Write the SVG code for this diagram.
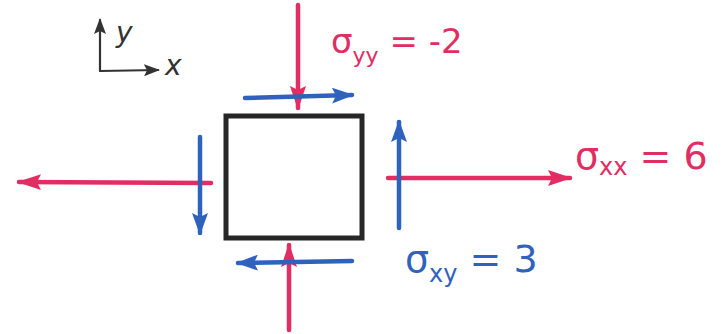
<svg xmlns="http://www.w3.org/2000/svg" width="722" height="334" viewBox="0 0 722 334">
<style>
.red{stroke:#e22d63;stroke-width:4.5;stroke-linecap:round;fill:none}
.blue{stroke:#2f62bd;stroke-width:4.5;stroke-linecap:round;fill:none}
.ax{stroke:#333;stroke-width:2.2;stroke-linecap:round;fill:none}
.lbl{font-family:"DejaVu Sans","Liberation Sans",sans-serif}
.rt{fill:#e22d63}
.bt{fill:#2f62bd}
</style>
<defs>
<marker id="hr" viewBox="0 0 24 18" refX="22" refY="9" markerWidth="24" markerHeight="18" markerUnits="userSpaceOnUse" orient="auto"><path d="M0,1 L24,9 L0,17 L4,9 Z" fill="#e22d63"/></marker>
<marker id="hb" viewBox="0 0 22 16" refX="20" refY="8" markerWidth="22" markerHeight="16" markerUnits="userSpaceOnUse" orient="auto"><path d="M0,0 L22,8 L0,16 L4,8 Z" fill="#2f62bd"/></marker>
<marker id="hk" viewBox="0 0 16 12" refX="14" refY="6" markerWidth="16" markerHeight="12" markerUnits="userSpaceOnUse" orient="auto"><path d="M0,0 L16,6 L0,12 L3,6 Z" fill="#333"/></marker>
</defs>
<g id="axes">
<path class="ax" d="M100,71 L100,20" marker-end="url(#hk)"/>
<path class="ax" d="M100,71 L158,70" marker-end="url(#hk)"/>
<text class="lbl" x="116" y="42" font-size="28" fill="#333" font-style="italic">y</text>
<text class="lbl" x="165" y="75" font-size="28" fill="#333" font-style="italic">x</text>
</g>
<g id="element">
<rect x="226" y="116" width="136" height="122" fill="none" stroke="#262626" stroke-width="5"/>
</g>
<g id="connectors">
<path class="red" d="M298,5 L298,108" marker-end="url(#hr)"/>
<path class="blue" d="M245,98 L352,95" marker-end="url(#hb)"/>
<path class="red" d="M211,183 L19,182" marker-end="url(#hr)"/>
<path class="blue" d="M200,137 L200,233" marker-end="url(#hb)"/>
<path class="red" d="M388,178 L570,178" marker-end="url(#hr)"/>
<path class="blue" d="M399,228 L399,122" marker-end="url(#hb)"/>
<path class="red" d="M289,330 L289,245" marker-end="url(#hr)"/>
<path class="blue" d="M352,261 L238,263" marker-end="url(#hb)"/>
</g>
<g id="label-syy">
<text class="lbl rt" x="331" y="53" font-size="34">σ<tspan font-size="22" dy="10">yy</tspan><tspan dy="-10"> = -2</tspan></text>
</g>
<g id="label-sxx">
<text class="lbl rt" x="575" y="169" font-size="38">σ<tspan font-size="24" dy="6">xx</tspan><tspan dy="-6"> = 6</tspan></text>
</g>
<g id="label-sxy">
<text class="lbl bt" x="405" y="272" font-size="38">σ<tspan font-size="24" dy="10">xy</tspan><tspan dy="-10"> = 3</tspan></text>
</g>
</svg>
